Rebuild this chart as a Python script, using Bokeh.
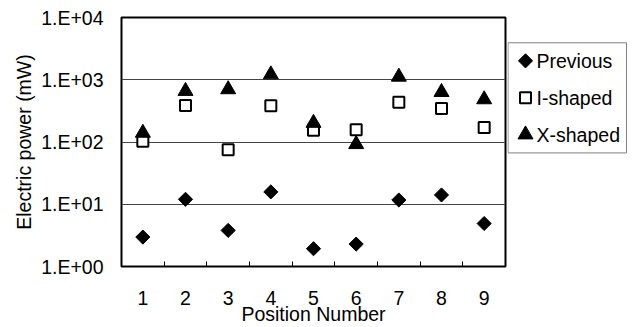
import numpy as np
from bokeh.plotting import figure
from bokeh.layouts import row
from bokeh.models import Range1d, FixedTicker, CustomJSTickFormatter, ColumnDataSource
from bokeh.core.properties import value
from bokeh.embed import file_html
from bokeh.resources import INLINE

# ---- data ----
positions = [1, 2, 3, 4, 5, 6, 7, 8, 9]
tick_labels = ["1", "2", "3", "4", "5", "6", "7", "8", "9"]
previous = [2.97, 12.0, 3.8, 15.8, 1.93, 2.29, 11.7, 14.1, 4.9]
i_shaped = [103, 386, 75, 381, 154, 158, 437, 346, 171]
x_shaped = [140, 658, 700, 1213, 202, 92, 1114, 632, 483]
series_names = ["Previous", "I-shaped", "X-shaped"]
y_ticks = [1, 10, 100, 1000, 10000]

FONT = "Liberation Sans"
FS = "19.5px"

p = figure(width=507, height=327, y_axis_type="log",
           x_range=Range1d(0.5, 9.5), y_range=Range1d(1, 10000),
           output_backend="svg", toolbar_location=None,
           min_border_left=121, min_border_right=2, min_border_top=17, min_border_bottom=59)
p.background_fill_color = "white"
p.border_fill_color = "white"
p.outline_line_color = "black"
p.outline_line_width = 2

# x axis
xa = p.xaxis[0]
xa.ticker = FixedTicker(ticks=positions, minor_ticks=[x + 0.5 for x in positions[:-1]])
xa.major_label_overrides = {x: t for x, t in zip(positions, tick_labels)}
xa.major_tick_line_color = None
xa.minor_tick_line_color = "black"
xa.minor_tick_line_width = 1
xa.minor_tick_in = 5
xa.minor_tick_out = 0
xa.axis_line_color = None
xa.axis_label = "Position Number"
xa.axis_label_text_font = FONT
xa.axis_label_text_font_size = FS
xa.axis_label_text_font_style = "normal"
xa.axis_label_text_color = "black"
xa.axis_label_standoff = -5
xa.major_label_text_font = FONT
xa.major_label_text_font_size = FS
xa.major_label_text_color = "black"
xa.major_label_standoff = 18

# y axis
ya = p.yaxis[0]
ya.ticker = FixedTicker(ticks=y_ticks, minor_ticks=[])
ya.formatter = CustomJSTickFormatter(code="""
const e = Math.round(Math.log10(tick));
return '1.E+' + (e < 10 ? '0' + e : String(e));
""")
ya.major_tick_line_color = None
ya.minor_tick_line_color = None
ya.axis_line_color = None
ya.axis_label = "Electric power (mW)"
ya.axis_label_text_font = FONT
ya.axis_label_text_font_size = FS
ya.axis_label_text_font_style = "normal"
ya.axis_label_text_color = "black"
ya.axis_label_standoff = 3
ya.major_label_text_font = FONT
ya.major_label_text_font_size = FS
ya.major_label_text_color = "black"
ya.major_label_standoff = 12

p.xgrid.visible = False
p.ygrid.ticker = FixedTicker(ticks=y_ticks[1:-1], minor_ticks=[])
p.ygrid.grid_line_color = "#444444"
p.ygrid.grid_line_width = 1

src = ColumnDataSource(dict(x=positions, prev=previous, ish=i_shaped, xsh=x_shaped))
p.scatter("x", "prev", source=src, marker="square", angle=np.pi / 4, size=10,
          fill_color="black", line_color="black")
p.scatter("x", "ish", source=src, marker="square", size=11,
          fill_color="white", line_color="black", line_width=2)
p.scatter("x", "xsh", source=src, marker="triangle", size=15,
          fill_color="black", line_color="black")

# ---- legend panel (screen-like coordinates; frame aligned with main plot) ----
leg = figure(width=125, height=327, x_range=Range1d(0, 125), y_range=Range1d(268, 17),
             output_backend="svg", toolbar_location=None,
             x_axis_location=None, y_axis_location=None,
             min_border_left=0, min_border_right=0,
             min_border_top=17, min_border_bottom=59)
leg.grid.visible = False
leg.outline_line_color = None
leg.background_fill_color = "white"
leg.border_fill_color = "white"

leg.quad(left=[0.5], right=[119], top=[42.5], bottom=[153.5],
         fill_color="white", line_color="#808080", line_width=1)
ly = [60.7, 98, 135]
leg.scatter([18], [ly[0]], marker="square", angle=np.pi / 4, size=10,
            fill_color="black", line_color="black")
leg.scatter([18], [ly[1]], marker="square", size=11,
            fill_color="white", line_color="black", line_width=2)
leg.scatter([18], [ly[2]], marker="triangle", size=15,
            fill_color="black", line_color="black")
leg.text(x=[29, 29, 29], y=ly, text=series_names,
         text_font=value(FONT), text_font_size=FS, text_color="black",
         text_baseline="middle", text_align="left")

layout = row(p, leg)
open("out.html", "w").write(file_html(layout, INLINE))
